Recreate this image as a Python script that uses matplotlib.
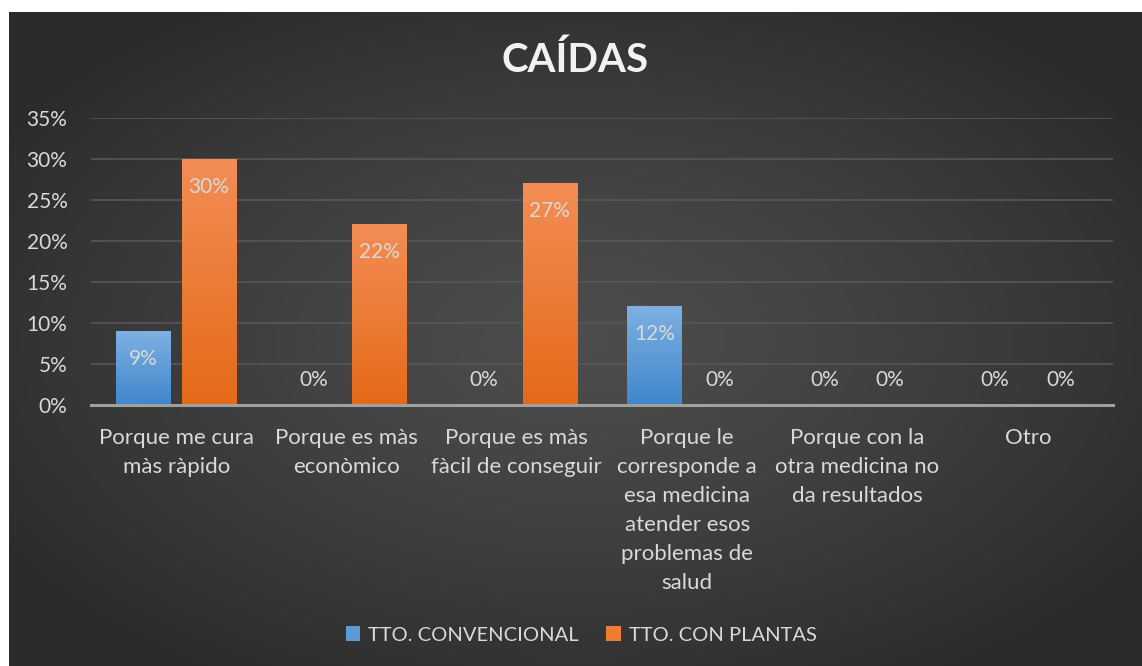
import numpy as np
import matplotlib
matplotlib.use("Agg")
import matplotlib.pyplot as plt
from matplotlib.patches import Rectangle

categories = [
    "Porque me cura\nmàs ràpido",
    "Porque es màs\neconòmico",
    "Porque es màs\nfàcil de conseguir",
    "Porque le\ncorresponde a\nesa medicina\natender esos\nproblemas de\nsalud",
    "Porque con la\notra medicina no\nda resultados",
    "Otro",
]
convencional = [0.09, 0.0, 0.0, 0.12, 0.0, 0.0]
plantas = [0.30, 0.22, 0.27, 0.0, 0.0, 0.0]
series_names = ["TTO. CONVENCIONAL", "TTO. CON PLANTAS"]
yticks = [0, 0.05, 0.10, 0.15, 0.20, 0.25, 0.30, 0.35]
title = "CAÍDAS"

FONT = ["Lato", "DejaVu Sans"]
plt.rcParams["font.family"] = FONT
TXT = "#d9d9d9"

W, H = 1142, 666
fig = plt.figure(figsize=(W / 100, H / 100), dpi=100)
fig.patch.set_facecolor("white")

# background with radial gradient
bg = fig.add_axes([9 / W, 0, 1 - 9 / W, (H - 12) / H])
bg.set_axis_off()
yy, xx = np.mgrid[0:200, 0:340]
cx, cy = 170, 100
r = np.sqrt(((xx - cx) / 170) ** 2 + ((yy - cy) / 100) ** 2)
val = 0.30 - 0.13 * np.clip(r / 1.2, 0, 1) ** 1.3
img = np.dstack([val, val, val])
bg.imshow(img, aspect="auto", extent=[0, 1, 0, 1], interpolation="bilinear")
bg.set_xlim(0, 1)
bg.set_ylim(0, 1)

ax = fig.add_axes([91 / W, 1 - 405 / H, (1113 - 91) / W, (405 - 118) / H])
ax.patch.set_alpha(0)
x = np.arange(len(categories))
bw = 54 / 170.3
off = 32.7 / 170.3


def grad_bar(xc, h, top_col, bot_col):
    if h <= 0:
        return
    c1 = np.array(matplotlib.colors.to_rgb(top_col))
    c2 = np.array(matplotlib.colors.to_rgb(bot_col))
    t = np.linspace(0, 1, 64)[:, None]
    g = (c1 * (1 - t) + c2 * t)[:, None, :]
    ax.imshow(g, aspect="auto", extent=[xc - bw / 2, xc + bw / 2, 0, h],
              interpolation="bilinear", zorder=3)


for i in range(len(categories)):
    grad_bar(x[i] - off, convencional[i], "#7eb0e2", "#3f87cc")
    grad_bar(x[i] + off, plantas[i], "#f38d55", "#e46a18")

ax.set_xlim(-0.5, len(categories) - 0.5)
ax.set_ylim(0, 0.35)

for vals, dx in ((convencional, -off), (plantas, off)):
    for i, v in enumerate(vals):
        if v > 0:
            ax.text(x[i] + dx, v - 0.034, f"{v*100:.0f}%", ha="center", va="center",
                    color=TXT, fontsize=15, zorder=5)
        else:
            ax.text(x[i] + dx, 0.0305, "0%", ha="center", va="center",
                    color=TXT, fontsize=15, zorder=5)

ax.set_yticks(yticks)
ax.set_yticklabels([f"{t*100:.0f}%" for t in yticks], color=TXT, fontsize=15)
ax.set_xticks(x)
ax.set_xticklabels(categories, color=TXT, fontsize=16, linespacing=1.56, va="top")
ax.tick_params(axis="both", length=0)
ax.tick_params(axis="x", pad=16.5)
ax.tick_params(axis="y", pad=17)
ax.grid(axis="y", color="#575757", linewidth=1.2, zorder=0)
ax.set_axisbelow(True)
for s in ["top", "right", "left"]:
    ax.spines[s].set_visible(False)
ax.spines["bottom"].set_color("#a0a0a0")
ax.spines["bottom"].set_linewidth(2.2)
ax.spines["bottom"].set_zorder(4)

fig.text(575 / W, 1 - 60 / H, title, ha="center", va="center", fontsize=29,
         fontweight="bold", color="#f2f2f2")

handles = [Rectangle((0, 0), 1, 1, facecolor=c) for c in ("#5b9bd5", "#ed7d31")]
leg = fig.legend(handles, series_names, loc="center", bbox_to_anchor=(581 / W, 1 - 635 / H),
                 ncol=2, frameon=False, fontsize=14.5, labelcolor=TXT,
                 handlelength=0.7, handleheight=0.7, handletextpad=0.4, columnspacing=1.4)

fig.savefig("out.png", dpi=100, facecolor=fig.get_facecolor())
